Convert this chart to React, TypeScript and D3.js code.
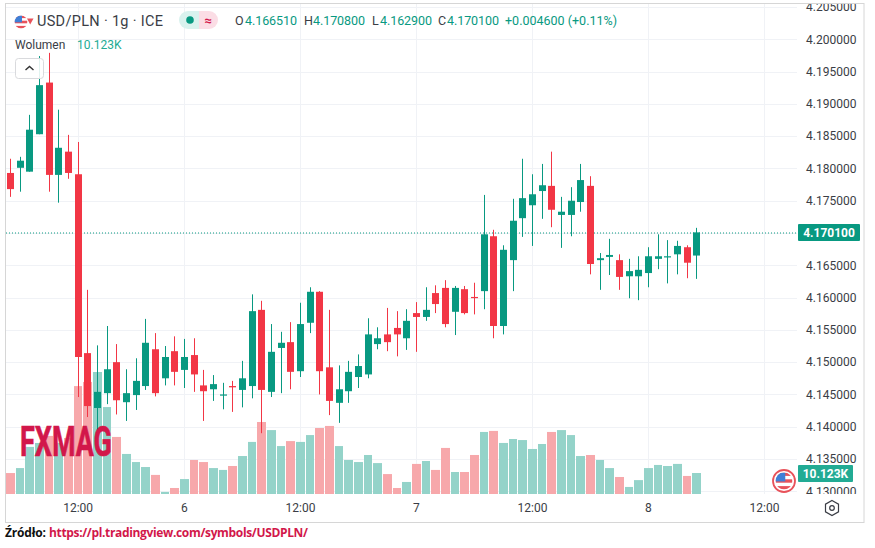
import React from "react";
import * as d3 from "d3";

const opens = [4.1793,4.1801,4.1795,4.1853,4.1933,4.1790,4.1826,4.1791,4.1514,4.1429,4.1452,4.1500,4.1438,4.1449,4.1463,4.1520,4.1475,4.1517,4.1488,4.1511,4.1464,4.1458,4.1449,4.1463,4.1457,4.1463,4.1581,4.1454,4.1522,4.1531,4.1486,4.1561,4.1609,4.1492,4.1437,4.1455,4.1477,4.1481,4.1528,4.1543,4.1553,4.1537,4.1576,4.1570,4.1607,4.1615,4.1578,4.1613,4.1601,4.1610,4.1695,4.1556,4.1658,4.1723,4.1743,4.1765,4.1773,4.1728,4.1728,4.1748,4.1773,4.1658,4.1663,4.1658,4.1633,4.1633,4.1638,4.1660,4.1663,4.1667,4.1678,4.16651];
const highs = [4.1815,4.1818,4.1883,4.1974,4.1979,4.1891,4.1852,4.1841,4.1612,4.1526,4.1556,4.1528,4.1489,4.1506,4.1567,4.1545,4.1525,4.1540,4.1536,4.1537,4.1488,4.1480,4.1468,4.1471,4.1502,4.1605,4.1595,4.1559,4.1547,4.1562,4.1592,4.1616,4.1610,4.1581,4.1495,4.1502,4.1512,4.1568,4.1554,4.1584,4.1579,4.1582,4.1593,4.1616,4.1619,4.1627,4.1618,4.1618,4.1623,4.1759,4.1705,4.1681,4.1753,4.1815,4.1791,4.1807,4.1826,4.1756,4.1771,4.1807,4.1788,4.1669,4.1691,4.1667,4.1660,4.1664,4.1678,4.1698,4.1689,4.1688,4.1681,4.1708];
const lows = [4.1756,4.1764,4.1795,4.1853,4.1764,4.1747,4.1784,4.1446,4.1415,4.1384,4.1435,4.1419,4.1409,4.1426,4.1457,4.1447,4.1464,4.1464,4.1460,4.1454,4.1409,4.1440,4.1427,4.1423,4.1430,4.1444,4.1390,4.1446,4.1452,4.1458,4.1477,4.1545,4.1450,4.1418,4.1406,4.1437,4.1460,4.1475,4.1520,4.1517,4.1509,4.1519,4.1516,4.1564,4.1576,4.1554,4.1542,4.1574,4.1574,4.1582,4.1537,4.1543,4.1610,4.1694,4.1680,4.1722,4.1709,4.1677,4.1695,4.1733,4.1636,4.1612,4.1635,4.1612,4.1599,4.1596,4.1616,4.1644,4.1622,4.1636,4.1630,4.1629];
const closes = [4.1768,4.1812,4.1860,4.1929,4.1790,4.1832,4.1793,4.1508,4.1432,4.1454,4.1489,4.1441,4.1452,4.1471,4.1530,4.1452,4.1508,4.1485,4.1508,4.1481,4.1455,4.1466,4.1450,4.1461,4.1475,4.1579,4.1457,4.1516,4.1530,4.1485,4.1559,4.1609,4.1486,4.1440,4.1458,4.1485,4.1494,4.1543,4.1537,4.1531,4.1543,4.1564,4.1570,4.1581,4.1590,4.1559,4.1615,4.1576,4.1600,4.1698,4.1556,4.1674,4.1719,4.1754,4.1760,4.1774,4.1736,4.1733,4.1750,4.1782,4.1652,4.1661,4.1666,4.1632,4.1641,4.1643,4.1664,4.1664,4.1664,4.1680,4.1654,4.1701];
const volumes = [10.1,12.5,22.7,24.6,28,24.6,27,52,54,58.8,41.9,27.5,19.3,15.4,13,9.2,1,2.9,7.2,16.4,15.4,12.5,11.6,13.5,18.3,25.1,34.7,30.8,23.1,25.5,25.1,28.4,31.8,32.8,23.1,16.4,15.4,18.8,14.9,9.6,2.9,5.8,14.5,15.9,11.6,22.2,10.6,10.6,18.8,29.9,30.4,24.6,26.5,26,21.7,24.1,29.9,30.8,28.4,18.3,18.8,16.4,12.5,8.2,3.4,6.7,12.5,14,13.5,14.5,8.7,10.123];

const priceTicks = [4.205,4.2,4.195,4.19,4.185,4.18,4.175,4.17,4.165,4.16,4.155,4.15,4.145,4.14,4.135,4.13];
const timeTicks: [number, string][] = [[7,"12:00"],[18,"6"],[30,"12:00"],[42,"7"],[54,"12:00"],[66,"8"],[78,"12:00"]];
const ohlcLabels: [string, string, number, number][] = [["O","4.166510",235,245],["H","4.170800",304,313],["L","4.162900",372,380],["C","4.170100",438,447]];
const lastPrice = 4.1701;

const UP = "#089981", DOWN = "#f23645", TXT = "#3a3d45", BRAND = "#d2174a";
const FONT = "Roboto, sans-serif";
const x = d3.scaleLinear().domain([0, 71]).range([10.5, 696.8]);
const y = d3.scaleLinear().domain([4.13, 4.2]).range([491.3, 39.3]);
const v = d3.scaleLinear().domain([0, 10]).range([494, 473.25]);
const fmt = d3.format(".6f");

function Flag({ cx, cy, r, id }: { cx: number; cy: number; r: number; id: string }) {
  const h = (2 * r) / 5;
  return (
    <g>
      <clipPath id={id}><circle cx={cx} cy={cy} r={r} /></clipPath>
      <g clipPath={`url(#${id})`}>
        <rect x={cx - r} y={cy - r} width={2 * r} height={2 * r} fill="#fff" />
        {[0, 2, 4].map(k => <rect key={k} x={cx - r} y={cy - r + k * h} width={2 * r} height={h} fill="#e8525a" />)}
        <rect x={cx - r} y={cy - r} width={r * 1.15} height={r * 1.05} fill="#3f7fd6" />
      </g>
    </g>
  );
}

export default function App() {
  return (
    <svg width={875} height={548} style={{ position: "absolute", left: 0, top: 0, background: "#fff" }} fontFamily={FONT}>
      <defs>
        <clipPath id="plot"><rect x={6} y={4} width={791} height={490} /></clipPath>
        <clipPath id="axis"><rect x={797} y={4} width={67} height={490} /></clipPath>
      </defs>
      <rect x={5.5} y={3.5} width={858.5} height={519} fill="none" stroke="#d6d6d6" />

      <g clipPath="url(#plot)">
        {priceTicks.map(p => <line key={p} x1={6} x2={797} y1={Math.round(y(p)) + 0.5} y2={Math.round(y(p)) + 0.5} stroke="#f0f2f6" />)}
        {timeTicks.map(([i]) => <line key={i} x1={Math.round(x(i)) + 0.5} x2={Math.round(x(i)) + 0.5} y1={4} y2={494} stroke="#f0f2f6" />)}
        {volumes.map((d, i) => {
          const left = Math.round(x(i) - 4.5);
          const right = Math.round(x(i + 1) - 4.5) - 1;
          return <rect key={i} x={left} y={v(d)} width={right - left} height={494 - v(d)} fill={closes[i] >= opens[i] ? "#94d3c9" : "#f7a8ab"} />;
        })}
        <line x1={6} x2={797} y1={233} y2={233} stroke={UP} strokeDasharray="1 2" />
        {opens.map((o, i) => {
          const c = closes[i];
          const col = c >= o ? UP : DOWN;
          const left = Math.round(x(i) - 3.5);
          const top = y(Math.max(o, c));
          const h = Math.max(1.2, Math.abs(y(o) - y(c)));
          return (
            <g key={i} fill={col}>
              <rect x={left + 3} y={y(highs[i])} width={1} height={y(lows[i]) - y(highs[i])} />
              <rect x={left} y={top} width={7} height={h} />
            </g>
          );
        })}
      </g>

      <g clipPath="url(#axis)">
        {priceTicks.filter(p => Math.abs(p - lastPrice) > 0.001).map(p => (
          <text key={p} x={806} y={y(p)} dy="0.36em" fontSize={12} fill={TXT}>{fmt(p)}</text>
        ))}
      </g>
      {timeTicks.map(([i, t]) => (
        <text key={i} x={x(i)} y={508} dy="0.36em" textAnchor="middle" fontSize={12} fill={TXT}>{t}</text>
      ))}

      <text x={20} y={456} fontSize={43} fontWeight={700} fill={BRAND} stroke={BRAND} strokeWidth={0.7} textLength={92} lengthAdjust="spacingAndGlyphs">FXMAG</text>

      <rect x={798} y={224} width={62} height={17} fill={UP} rx={1} />
      <text x={829} y={232.5} dy="0.36em" textAnchor="middle" fontSize={12} fontWeight={700} fill="#fff">{fmt(lastPrice)}</text>
      <rect x={798} y={465} width={55} height={17} fill="#22ab94" rx={1} />
      <text x={825.5} y={473.5} dy="0.36em" textAnchor="middle" fontSize={12} fontWeight={700} fill="#fff">10.123K</text>

      <circle cx={784} cy={481} r={11} fill="#fff" stroke="#e8525a" strokeWidth={1.8} />
      <Flag cx={784} cy={481} r={8.5} id="f2" />

      <path d="M832 500.5 L838.5 504.2 L838.5 511.8 L832 515.5 L825.5 511.8 L825.5 504.2 Z" fill="none" stroke="#3a3d45" strokeWidth={1.2} />
      <circle cx={832} cy={508} r={2.3} fill="none" stroke="#3a3d45" strokeWidth={1.2} />

      <Flag cx={21} cy={22} r={6.5} id="f1" />
      <path d="M27 18.5 H33.5 L30.2 24.5 Z" fill="#e8525a" />
      <text x={37} y={20.5} dy="0.36em" fontSize={14.5} fill={TXT} textLength={126}>USD/PLN · 1g · ICE</text>

      <path d="M199 11 H188 a9 9 0 0 0 0 18 H199 Z" fill="#d9f2ee" />
      <path d="M199 11 H209 a9 9 0 0 1 0 18 H199 Z" fill="#fbdde5" />
      <circle cx={190} cy={20} r={3.8} fill={UP} />
      <text x={208} y={20} dy="0.36em" textAnchor="middle" fontSize={13} fontWeight={700} fill={BRAND}>≈</text>

      {ohlcLabels.map(([l, val, lx, vx]) => (
        <g key={l} fontSize={12.5}>
          <text x={lx} y={20.5} dy="0.36em" fill={TXT}>{l}</text>
          <text x={vx} y={20.5} dy="0.36em" fill={UP} textLength={52}>{val}</text>
        </g>
      ))}
      <text x={505} y={20.5} dy="0.36em" fontSize={12.5} fill={UP} textLength={112}>+0.004600 (+0.11%)</text>

      <text x={15} y={44.5} dy="0.36em" fontSize={12} fill={TXT}>Wolumen</text>
      <text x={77} y={44.5} dy="0.36em" fontSize={12} fill="#22ab94">10.123K</text>

      <rect x={15.5} y={58.5} width={28} height={20} rx={3} fill="#fff" fillOpacity={0.88} stroke="#d9dadd" />
      <path d="M25.5 70 L29.5 66.5 L33.5 70" fill="none" stroke="#333" strokeWidth={1.4} />

      <text x={5} y={533} dy="0.36em" fontSize={12} fontWeight={700} fontFamily="'Open Sans', sans-serif" fill="#111" textLength={41}>Źródło:</text>
      <text x={49} y={533} dy="0.36em" fontSize={12} fontWeight={700} fontFamily="'Open Sans', sans-serif" fill={BRAND} textLength={259}>https://pl.tradingview.com/symbols/USDPLN/</text>
    </svg>
  );
}
